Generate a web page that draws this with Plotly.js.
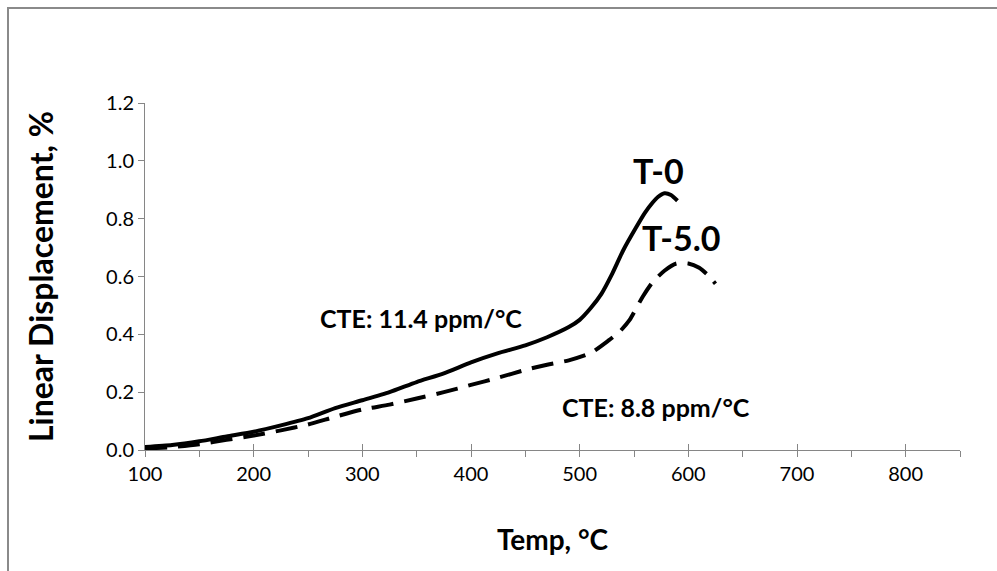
<!DOCTYPE html>
<html>
<head>
<meta charset="utf-8">
<script src="https://cdn.plot.ly/plotly-3.0.1.min.js"></script>
<style>
  html, body { margin: 0; padding: 0; background: #ffffff; overflow: hidden; }
  #wrap { position: relative; width: 997px; height: 571px; }
  #chart { position: absolute; left: 0; top: 0; width: 997px; height: 571px; }
  #frame { position: absolute; left: 7px; top: 7px; width: 1200px; height: 800px;
           border-top: 2px solid #8a8a8a; border-left: 2px solid #8a8a8a; pointer-events: none; }
</style>
</head>
<body>
<div id="wrap">
  <div id="chart"></div>
  <div id="frame"></div>
</div>
<script>
// T-0 (solid)
const tempT0 = [100, 125, 150, 175, 200, 225, 250, 275, 300, 325, 350, 375, 400, 425, 450, 470, 490, 500, 510, 520, 530, 540, 552, 560, 567, 572, 578, 584, 590];
const dispT0 = [0.010, 0.017, 0.030, 0.047, 0.063, 0.085, 0.110, 0.145, 0.172, 0.200, 0.235, 0.265, 0.303, 0.335, 0.362, 0.390, 0.425, 0.450, 0.490, 0.540, 0.610, 0.690, 0.770, 0.820, 0.855, 0.875, 0.888, 0.882, 0.862];
// T-5.0 (dashed)
const tempT5 = [100, 125, 150, 175, 200, 225, 250, 275, 300, 325, 350, 375, 400, 425, 450, 470, 490, 510, 527, 537, 546, 558, 567, 578, 589, 600, 610, 618, 625];
const dispT5 = [0.005, 0.010, 0.020, 0.035, 0.050, 0.068, 0.088, 0.115, 0.140, 0.157, 0.178, 0.200, 0.225, 0.250, 0.277, 0.295, 0.310, 0.335, 0.380, 0.410, 0.450, 0.530, 0.580, 0.620, 0.645, 0.645, 0.630, 0.605, 0.575];

const xTicks = [100, 200, 300, 400, 500, 600, 700, 800];
const yTicks = [0.0, 0.2, 0.4, 0.6, 0.8, 1.0, 1.2];

const labels = [
  { text: 'T-0', x: 573, y: 0.965, size: 34 },
  { text: 'T-5.0', x: 594, y: 0.734, size: 34 },
  { text: 'CTE: 11.4 ppm/°C', x: 354, y: 0.457, size: 25 },
  { text: 'CTE: 8.8 ppm/°C', x: 570, y: 0.149, size: 25 }
];

const FONT = 'Lato, "Open Sans", sans-serif';
const AXC = '#868686';

const traces = [
  { x: tempT0, y: dispT0, type: 'scatter', mode: 'lines', name: 'T-0',
    line: { color: '#000000', width: 4, shape: 'spline', smoothing: 0.6 }, showlegend: false, hoverinfo: 'skip' },
  { x: tempT5, y: dispT5, type: 'scatter', mode: 'lines', name: 'T-5.0',
    line: { color: '#000000', width: 4, dash: '22px,11px', shape: 'spline', smoothing: 0.6 }, showlegend: false, hoverinfo: 'skip' },
  { x: [], y: [], xaxis: 'x2', yaxis: 'y', type: 'scatter', mode: 'lines', showlegend: false, hoverinfo: 'skip' }
];

const layout = {
  width: 997, height: 571,
  margin: { l: 145, r: 37, t: 103, b: 121 },
  paper_bgcolor: '#ffffff', plot_bgcolor: '#ffffff',
  font: { family: FONT, color: '#000000' },
  showlegend: false,
  xaxis: {
    range: [100, 850], tickvals: xTicks, ticktext: xTicks.map(String),
    ticks: 'outside', ticklen: 6, tickcolor: AXC, tickwidth: 1,
    minor: { dtick: 50, tick0: 100, ticks: 'outside', ticklen: 6, tickcolor: AXC, showgrid: false },
    showline: true, linecolor: AXC, linewidth: 1, showgrid: false, zeroline: false,
    tickfont: { family: FONT, size: 20, color: '#000000' },
    title: { text: 'Temp, °C', font: { family: FONT, size: 28, weight: 'bold', color: '#000000' }, standoff: 46 },
    automargin: false
  },
  xaxis2: {
    range: [100, 850], overlaying: 'x', anchor: 'y', side: 'bottom',
    tickvals: xTicks, ticks: 'inside', ticklen: 6, tickcolor: AXC, tickwidth: 1,
    showticklabels: false, showline: false, showgrid: false, zeroline: false
  },
  yaxis: {
    range: [0, 1.2], tickvals: yTicks, ticktext: yTicks.map(v => v.toFixed(1)),
    ticks: 'outside', ticklen: 6, tickcolor: AXC, tickwidth: 1,
    showline: true, linecolor: AXC, linewidth: 1, showgrid: false, zeroline: false,
    tickfont: { family: FONT, size: 20, color: '#000000' },
    title: { text: 'Linear Displacement, %', font: { family: FONT, size: 32, weight: 'bold', color: '#000000' }, standoff: 42 },
    automargin: false
  },
  annotations: labels.map(l => ({
    text: l.text, x: l.x, y: l.y, xref: 'x', yref: 'y', showarrow: false,
    xanchor: 'center', yanchor: 'middle',
    font: { family: FONT, size: l.size, weight: 'bold', color: '#000000' }
  }))
};

Plotly.newPlot('chart', traces, layout, { staticPlot: true, displayModeBar: false });
</script>
</body>
</html>
